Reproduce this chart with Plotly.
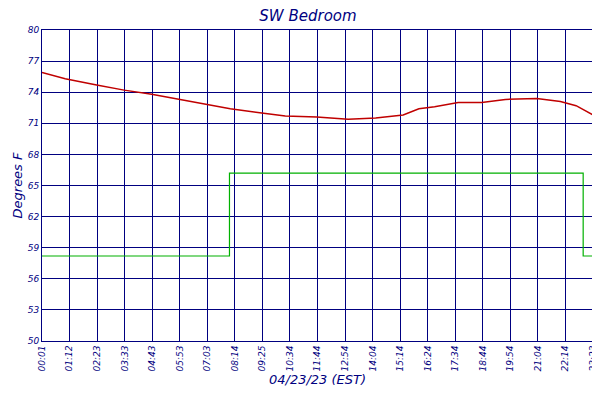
import plotly.graph_objects as go

tick_labels = ["00:01","01:12","02:23","03:33","04:43","05:53","07:03","08:14","09:25","10:34",
               "11:44","12:54","14:04","15:14","16:24","17:34","18:44","19:54","21:04","22:14","23:23"]
temp_minutes = [1,60,140,210,280,350,420,480,560,620,700,780,850,920,960,1000,1060,1120,1180,1260,1320,1360,1403]
temp_values = [75.9,75.3,74.7,74.2,73.8,73.3,72.8,72.4,72.0,71.7,71.6,71.4,71.5,71.8,72.4,72.6,73.0,73.0,73.3,73.4,73.1,72.7,71.8]
setback_minutes = [1,478,478,1378,1378,1403]
setback_values = [58.2,58.2,66.2,66.2,58.2,58.2]
y_ticks = [50,53,56,59,62,65,68,71,74,77,80]

n = len(tick_labels)
tick_vals = [1 + i*(1403-1)/(n-1) for i in range(n)]
navy = "#000080"
font = dict(family="DejaVu Sans", color=navy, size=9, style="italic")

fig = go.Figure()
fig.add_trace(go.Scatter(x=temp_minutes, y=temp_values, mode="lines", name="SW Bedroom",
                         line=dict(color="#c00000", width=1.5)))
fig.add_trace(go.Scatter(x=setback_minutes, y=setback_values, mode="lines", name="Setback",
                         line=dict(color="#00b000", width=1.2)))
fig.add_trace(go.Scatter(x=[1], y=[50], yaxis="y2", showlegend=False, hoverinfo="skip",
                         mode="markers", marker=dict(opacity=0)))
fig.update_layout(
    width=600, height=400, margin=dict(l=34, r=15, t=22, b=67, autoexpand=False),
    paper_bgcolor="white", plot_bgcolor="white",
    title=dict(text="SW Bedroom", x=0.5, y=0.995, xanchor="center", yanchor="top",
               font=dict(family="DejaVu Sans", color=navy, size=15, style="italic")),
    xaxis=dict(range=[1,1403], tickvals=tick_vals, ticktext=tick_labels, tickangle=-90,
               showgrid=True, gridcolor=navy, gridwidth=1, linecolor=navy, mirror=True,
               showline=True, tickfont=font, zeroline=False, automargin=False,
               title=dict(text="04/23/23 (EST)", font=dict(family="DejaVu Sans", color=navy, size=13, style="italic"), standoff=4)),
    yaxis=dict(range=[50,80], tickvals=y_ticks, showgrid=True, gridcolor=navy, gridwidth=1,
               linecolor=navy, showline=True, mirror=True, tickfont=font, zeroline=False, automargin=False,
               title=dict(text="Degrees F", font=dict(family="DejaVu Sans", color=navy, size=13, style="italic"), standoff=2)),
    yaxis2=dict(range=[50,80], tickvals=y_ticks, overlaying="y", side="right", showgrid=False,
                tickfont=font, zeroline=False, automargin=False),
    legend=dict(orientation="h", x=0.5, xanchor="center", y=-0.17, yanchor="top",
                font=dict(family="DejaVu Sans", color=navy, size=11, style="italic")),
    showlegend=True,
)
fig.write_html("out.html")
